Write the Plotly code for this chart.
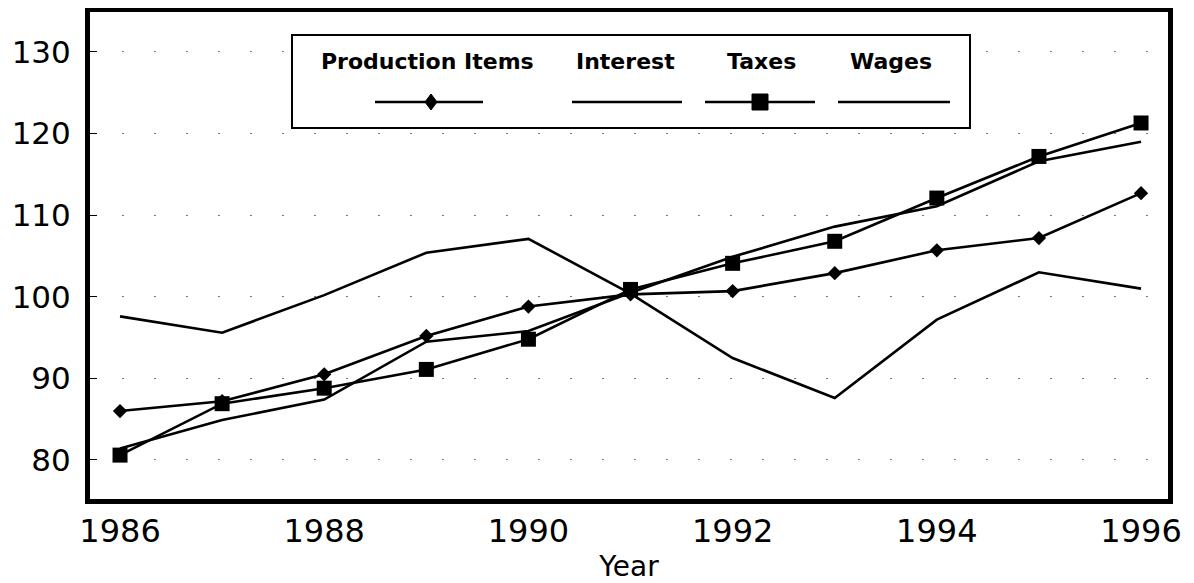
import plotly.graph_objects as go

years = [1986, 1987, 1988, 1989, 1990, 1991, 1992, 1993, 1994, 1995, 1996]
production_items = [86.0, 87.2, 90.5, 95.2, 98.8, 100.3, 100.7, 102.9, 105.7, 107.2, 112.7]
interest = [97.6, 95.6, 100.2, 105.4, 107.1, 100.4, 92.5, 87.6, 97.2, 103.0, 101.0]
taxes = [80.6, 86.9, 88.8, 91.1, 94.8, 100.9, 104.1, 106.8, 112.1, 117.2, 121.3]
wages = [81.4, 84.9, 87.4, 94.5, 95.8, 100.5, 104.9, 108.6, 111.1, 116.6, 119.0]

series_names = ["Production Items", "Interest", "Taxes", "Wages"]
y_ticks = [80, 90, 100, 110, 120, 130]
x_ticks = [1986, 1988, 1990, 1992, 1994, 1996]

# page has an 8px body margin; figure is sized so the page is filled
OFF = 8
W, H = 1194 - OFF, 583 - OFF
ML, MT = 90 - OFF, 12 - OFF
MR, MB = W - (1168 - OFF), H - (499 - OFF)
PW, PH = W - ML - MR, H - MT - MB

def px(x):
    return (x - OFF - ML) / PW

def py(y):
    return (H - MB - (y - OFF)) / PH

fig = go.Figure()
line = dict(color="black", width=2.6)
fig.add_trace(go.Scatter(x=years, y=interest, mode="lines", line=line, name=series_names[1]))
fig.add_trace(go.Scatter(x=years, y=wages, mode="lines", line=line, name=series_names[3]))
fig.add_trace(go.Scatter(x=years, y=production_items, mode="lines+markers", line=line,
                         marker=dict(symbol="diamond", size=11, color="black"), name=series_names[0]))
fig.add_trace(go.Scatter(x=years, y=taxes, mode="lines+markers", line=line,
                         marker=dict(symbol="square", size=15, color="black"), name=series_names[2]))

shapes = []
annotations = []
# custom legend box
shapes.append(dict(type="rect", xref="paper", yref="paper", x0=px(292), x1=px(970), y0=py(128), y1=py(35),
                   line=dict(color="black", width=2), fillcolor="white", layer="above"))
text_x = [427, 625, 761, 891]
seg = [(375, 483), (572, 682), (705, 815), (838, 950)]
for name, tx, (a, b) in zip(series_names, text_x, seg):
    annotations.append(dict(x=px(tx), y=py(62), xref="paper", yref="paper", text=name, showarrow=False,
                            font=dict(family="DejaVu Sans", size=22, color="black", weight="bold"),
                            xanchor="center", yanchor="middle"))
    shapes.append(dict(type="line", xref="paper", yref="paper", x0=px(a), x1=px(b), y0=py(102), y1=py(102),
                       line=dict(color="black", width=2.6), layer="above"))
# legend markers
shapes.append(dict(type="path", xref="paper", yref="paper", xsizemode="pixel", ysizemode="pixel",
                   xanchor=px(431), yanchor=py(102), path="M -6 0 L 0 8 L 6 0 L 0 -8 Z",
                   fillcolor="black", line=dict(color="black", width=1), layer="above"))
shapes.append(dict(type="rect", xref="paper", yref="paper", xsizemode="pixel", ysizemode="pixel",
                   xanchor=px(760), yanchor=py(102), x0=-8, x1=8, y0=-8, y1=8,
                   fillcolor="black", line=dict(color="black", width=1), layer="above"))

fig.update_layout(
    width=W, height=H,
    margin=dict(l=ML, r=MR, t=MT, b=MB, autoexpand=False),
    paper_bgcolor="white", plot_bgcolor="white",
    showlegend=False,
    shapes=shapes, annotations=annotations,
    font=dict(family="DejaVu Sans", color="black"),
)
fig.update_xaxes(range=[1985.706, 1996.264], tickvals=x_ticks, ticktext=[str(t) for t in x_ticks],
                 automargin=False,
                 showgrid=False, zeroline=False, showline=True, mirror=True, linecolor="black", linewidth=5,
                 ticks="", tickfont=dict(size=32, family="DejaVu Sans"), ticklabelstandoff=0,
                 title=dict(text="Year", font=dict(size=28, family="DejaVu Sans"), standoff=8))
fig.update_yaxes(range=[75.22, 134.9], tickvals=y_ticks, ticktext=[str(t) for t in y_ticks],
                 automargin=False,
                 showgrid=True, gridcolor="#777", gridwidth=1, griddash="2px,30px", zeroline=False,
                 showline=True, mirror=True, linecolor="black", linewidth=5,
                 ticks="inside", ticklen=7, tickwidth=1, tickcolor="black",
                 tickfont=dict(size=31, family="DejaVu Sans"), ticklabelstandoff=8)

fig.write_html("out.html")
